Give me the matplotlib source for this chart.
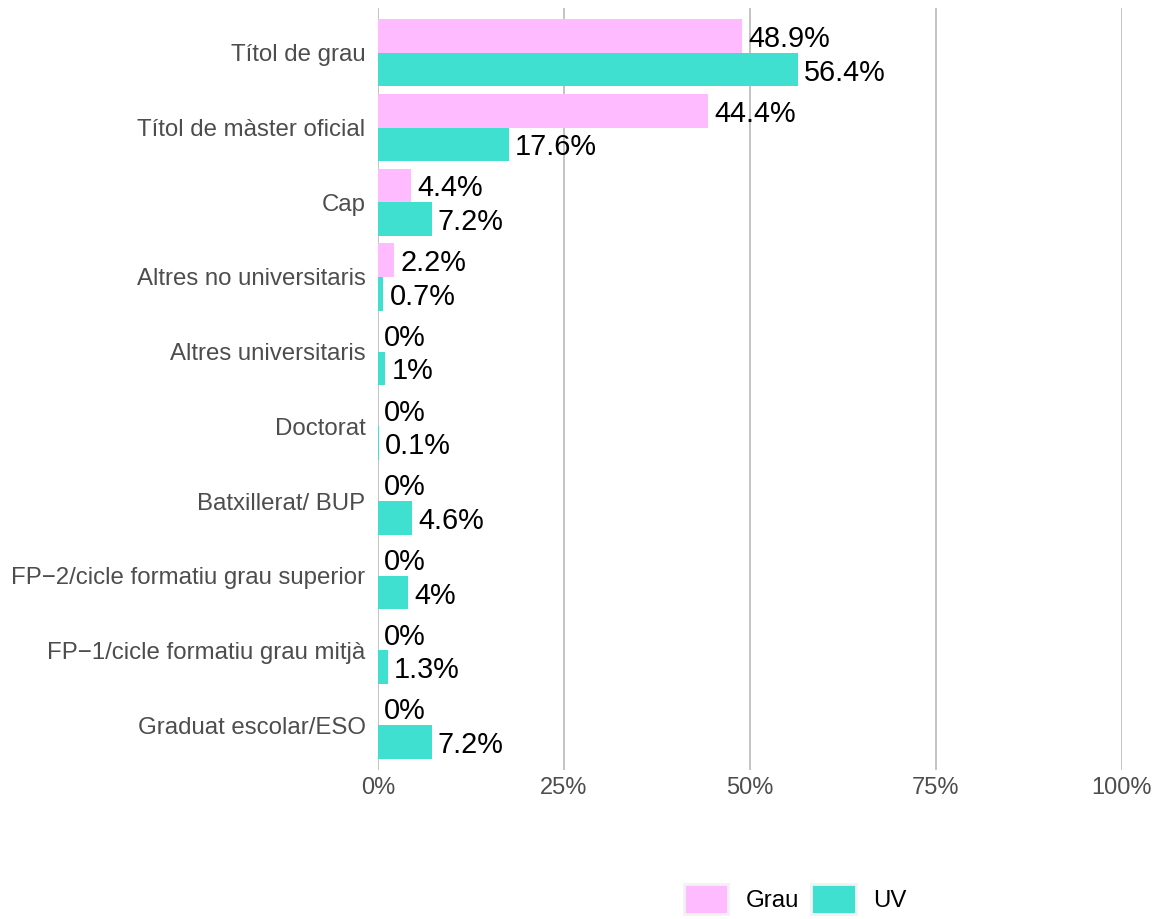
import matplotlib.pyplot as plt
from matplotlib.patches import Patch
import numpy as np

categories = [
    "Títol de grau",
    "Títol de màster oficial",
    "Cap",
    "Altres no universitaris",
    "Altres universitaris",
    "Doctorat",
    "Batxillerat/ BUP",
    "FP\u22122/cicle formatiu grau superior",
    "FP\u22121/cicle formatiu grau mitjà",
    "Graduat escolar/ESO",
]
grau = [48.9, 44.4, 4.4, 2.2, 0, 0, 0, 0, 0, 0]
uv = [56.4, 17.6, 7.2, 0.7, 1, 0.1, 4.6, 4, 1.3, 7.2]
xticks = [0, 25, 50, 75, 100]

pink = "#FFBBFF"
teal = "#40E0D0"
grey_txt = "#4D4D4D"

plt.rcParams["font.family"] = ["Liberation Sans", "DejaVu Sans"]

px = 1 / 100
fig = plt.figure(figsize=(1160 * px, 919 * px), dpi=100)
ax = fig.add_axes([378 / 1160, 149 / 919, 744 / 1160, 762 / 919])

y = np.arange(len(categories))
h = 0.45
ax.barh(y - h / 2, grau, height=h, color=pink, zorder=2)
ax.barh(y + h / 2, uv, height=h, color=teal, zorder=2)

# labels just past the bar ends
for yy, v in zip(y - h / 2, grau):
    ax.annotate(f"{v:g}%", (v, yy), xytext=(4.5, 0), textcoords="offset points",
                ha="left", va="center_baseline", fontsize=20.8, color="black")
for yy, v in zip(y + h / 2, uv):
    ax.annotate(f"{v:g}%", (v, yy), xytext=(4.5, 0), textcoords="offset points",
                ha="left", va="center_baseline", fontsize=20.8, color="black")

ax.set_xlim(0, 100)
ax.set_ylim(len(categories) - 1 + 0.6, -0.6)
ax.set_xticks(xticks)
ax.set_xticklabels([f"{t}%" for t in xticks], fontsize=17, color=grey_txt)
ax.set_yticks(y)
ax.set_yticklabels(categories, fontsize=17.3, color=grey_txt)
ax.tick_params(axis="both", length=0)
ax.tick_params(axis="y", pad=9)
ax.tick_params(axis="x", pad=5)
ax.grid(axis="x", color="#BEBEBE", linewidth=1.3, zorder=0)
for s in ax.spines.values():
    s.set_visible(False)

handles = [Patch(facecolor=pink, edgecolor="#F2F2F2", linewidth=2),
           Patch(facecolor=teal, edgecolor="#F2F2F2", linewidth=2)]
fig.legend(handles, ["Grau", "UV"], ncol=2, loc="center left",
           bbox_to_anchor=(684 / 1160, 1 - 899 / 919), frameon=False,
           fontsize=17.3, borderpad=0, borderaxespad=0, handlelength=1.85,
           handleheight=1.6, handletextpad=0.7, columnspacing=0.53)

fig.savefig("out.png", dpi=100)
